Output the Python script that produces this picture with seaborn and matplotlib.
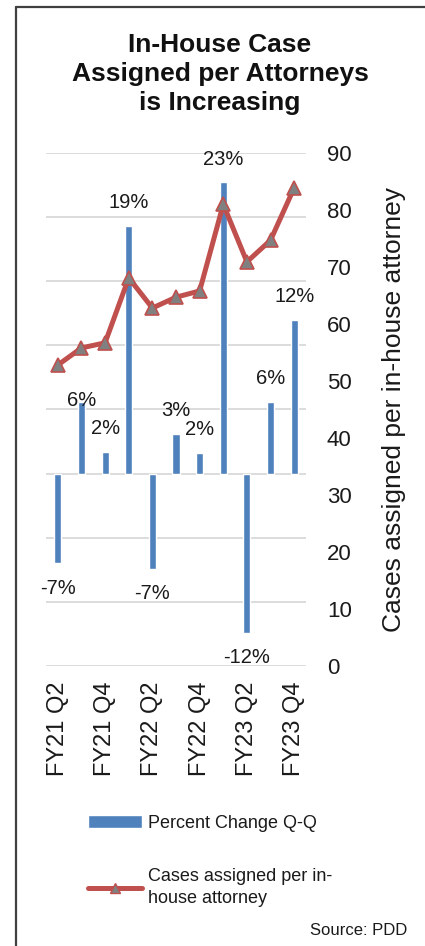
import numpy as np
import matplotlib
matplotlib.use('Agg')
import matplotlib.pyplot as plt
import seaborn as sns
from matplotlib.patches import Patch
from matplotlib.lines import Line2D

# data
quarters = ['FY21 Q2', 'FY21 Q3', 'FY21 Q4', 'FY22 Q1', 'FY22 Q2', 'FY22 Q3',
            'FY22 Q4', 'FY23 Q1', 'FY23 Q2', 'FY23 Q3', 'FY23 Q4']
pct_change = [-7.0, 5.6, 1.7, 19.3, -7.4, 3.1, 1.6, 22.7, -12.4, 5.6, 12.0]
cases_per_attorney = [52.8, 55.8, 56.7, 68.1, 62.8, 64.7, 65.8, 81.0, 70.9, 74.7, 83.9]
shown_ticks = quarters[::2]

BLUE = '#4F81BD'
RED = '#C0504D'
TXT = '#1a1a1a'

sns.set_theme(style='white')
plt.rcParams['font.family'] = ['Liberation Sans', 'DejaVu Sans']

fig = plt.figure(figsize=(4.25, 9.46), dpi=100)
ax = fig.add_axes([46/425, 1 - 666/946, 260/425, 513/946])

# bars on the hidden left axis (-15% .. 25%)
sns.barplot(x=quarters, y=pct_change, ax=ax, color=BLUE, saturation=1,
            width=0.3, zorder=2)
ax.set_ylim(-15, 25)
ax.set_yticks(np.arange(-15, 26, 5))
ax.yaxis.grid(True, color='#D9D9D9', lw=1.3)
ax.set_axisbelow(True)
ax.set_ylabel('')
for s in ax.spines.values():
    s.set_visible(False)

# percent labels
for i, v in enumerate(pct_change):
    dy = 10 if v >= 0 else -11
    if i == 1:
        dy = -6  # this label sits on the bar top in the original
    ax.annotate(f'{v:.0f}%', xy=(i, v), xytext=(0, dy), textcoords='offset points',
                ha='center', va='bottom' if v >= 0 else 'top', fontsize=14.5,
                color=TXT)

# line on the right axis
ax2 = ax.twinx()
sns.lineplot(x=np.arange(len(quarters)), y=cases_per_attorney, ax=ax2, color=RED,
             lw=3.6, marker='^', markersize=10, markerfacecolor='#808080',
             markeredgecolor=RED, markeredgewidth=1.2, solid_capstyle='round')
ax2.set_ylim(0, 90)
ax2.set_yticks(np.arange(0, 91, 10))
ax2.grid(False)
ax2.tick_params(axis='y', left=False, right=False, length=0, pad=15,
                labelsize=16, colors=TXT)
for s in ax2.spines.values():
    s.set_visible(False)
ax2.set_ylabel('Cases assigned per in-house attorney', fontsize=19, color=TXT)
ax2.yaxis.set_label_coords((382 - 46) / 260, 0.5)

# twinx turns the left ticks back on, so hide them afterwards
ax.tick_params(axis='y', left=False, right=False, labelleft=False)
ax.set_xlim(-0.5, len(quarters) - 0.5)
ax.set_xticks(np.arange(0, len(quarters), 2))
ax.set_xticklabels(shown_ticks, rotation=90, fontsize=17, color=TXT)
ax.tick_params(axis='x', length=0, pad=11)
ax.set_xlabel('')

fig.text(220/425, 1 - 74/946, 'In-House Case\nAssigned per Attorneys\nis Increasing',
         ha='center', va='center', fontsize=19, fontweight='bold', color='#111111',
         linespacing=1.27)

handles = [Patch(facecolor=BLUE),
           Line2D([], [], color=RED, lw=3.6, marker='^', markersize=7,
                  markerfacecolor='#808080', markeredgecolor=RED, solid_capstyle='round')]
leg = fig.legend(handles, ['Percent Change Q-Q', 'Cases assigned per in-\nhouse attorney'],
                 loc='upper left', bbox_to_anchor=(88/425, 1 - 815/946), frameon=False,
                 fontsize=13, handlelength=3.0, handletextpad=0.3, labelspacing=2.0,
                 borderpad=0, borderaxespad=0, labelcolor=TXT)
leg.get_texts()[1].set_linespacing(1.35)

fig.text(407/425, 1 - 930/946, 'Source: PDD', ha='right', va='center', fontsize=12,
         color=TXT)

# outer frame (left and top edges)
fig.add_artist(Line2D([16/425, 16/425], [0, 1 - 7/946], transform=fig.transFigure,
                      color='#404040', lw=1.6))
fig.add_artist(Line2D([16/425, 1], [1 - 7/946, 1 - 7/946], transform=fig.transFigure,
                      color='#404040', lw=1.6))

fig.savefig('out.png', dpi=100)
